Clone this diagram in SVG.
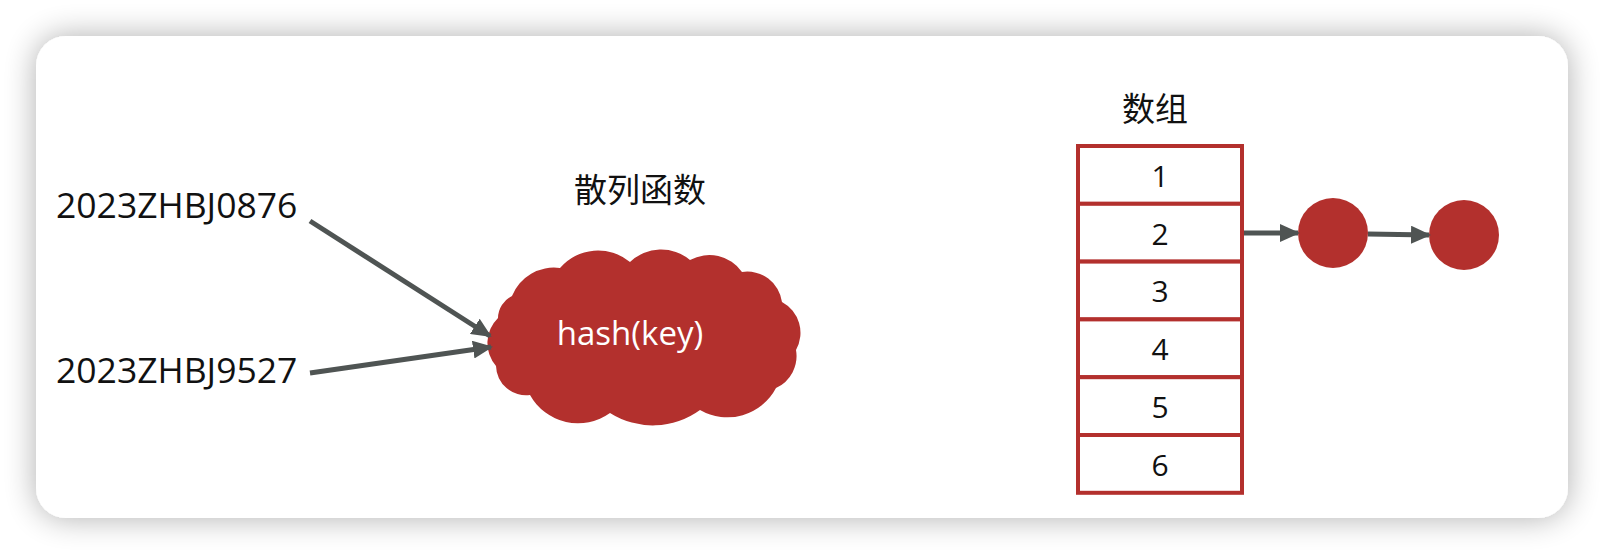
<svg xmlns="http://www.w3.org/2000/svg" width="1604" height="554" viewBox="0 0 1604 554">
  <defs>
    <filter id="shadow" x="-10%" y="-25%" width="120%" height="150%">
      <feGaussianBlur in="SourceAlpha" stdDeviation="16"/>
      <feComponentTransfer><feFuncA type="linear" slope="0.32"/></feComponentTransfer>
      <feMerge><feMergeNode/><feMergeNode in="SourceGraphic"/></feMerge>
    </filter>
    <marker id="arrow" markerUnits="userSpaceOnUse" markerWidth="20" markerHeight="18" refX="18" refY="9" orient="auto">
      <path d="M0,0 L20,9 L0,18 Z" fill="#4f5453"/>
    </marker>
    <style>
      .lbl { font-family: "Open Sans", "Noto Sans", sans-serif; fill: #111; }
      .key { font-size: 35.5px; }
      .cjk { font-family: "Noto Sans CJK SC", "Noto Sans", sans-serif; font-size: 33px; fill: #111; text-anchor: middle; }
      .num { font-size: 30px; text-anchor: middle; }
      .cell { fill: #ffffff; stroke: #b3302d; stroke-width: 4; }
      .red { fill: #b3302d; }
      .conn { stroke: #4f5453; stroke-width: 5; fill: none; marker-end: url(#arrow); }
    </style>
  </defs>
  <rect x="0" y="0" width="1604" height="554" fill="#ffffff"/>
  <rect x="36" y="36" width="1532" height="482" rx="30" ry="30" fill="#ffffff" filter="url(#shadow)"/>

  <g id="key1"><text class="lbl key" x="56" y="218">2023ZHBJ0876</text></g>
  <g id="key2"><text class="lbl key" x="56" y="383">2023ZHBJ9527</text></g>

  <g id="hash-title"><text class="cjk" x="640" y="202" font-size="34">散列函数</text></g>

  <g id="hash-cloud">
    <path class="red" d="M498,318 A25,25 0 0 1 512,296 A45,45 0 0 1 560,268 A50,50 0 0 1 630,262 A45,45 0 0 1 690,260 A40,40 0 0 1 742,272 A35,35 0 0 1 782,302 A35,35 0 0 1 796,350 A35,35 0 0 1 776,388 A55,55 0 0 1 700,410 A80,80 0 0 1 610,413 A55,55 0 0 1 530,395 A30,30 0 0 1 496,366 A35,35 0 0 1 498,318 Z"/>
    <text x="630" y="345" font-family="'Open Sans', 'Noto Sans', sans-serif" font-size="33" fill="#ffffff" text-anchor="middle">hash(key)</text>
  </g>

  <g id="array-title"><text class="cjk" x="1155" y="121">数组</text></g>

  <g id="array">
    <rect class="cell" x="1078" y="146" width="164" height="57.8"/>
    <rect class="cell" x="1078" y="203.8" width="164" height="57.8"/>
    <rect class="cell" x="1078" y="261.6" width="164" height="57.8"/>
    <rect class="cell" x="1078" y="319.4" width="164" height="57.8"/>
    <rect class="cell" x="1078" y="377.2" width="164" height="57.8"/>
    <rect class="cell" x="1078" y="435" width="164" height="57.8"/>
    <text class="lbl num" x="1160" y="187">1</text>
    <text class="lbl num" x="1160" y="245">2</text>
    <text class="lbl num" x="1160" y="302">3</text>
    <text class="lbl num" x="1160" y="360">4</text>
    <text class="lbl num" x="1160" y="418">5</text>
    <text class="lbl num" x="1160" y="476">6</text>
  </g>

  <g id="node1"><circle class="red" cx="1333" cy="233" r="35"/></g>
  <g id="node2"><circle class="red" cx="1464" cy="235" r="35"/></g>

  <g id="connectors">
    <line class="conn" x1="310" y1="221" x2="490" y2="336"/>
    <line class="conn" x1="310" y1="373" x2="491" y2="347"/>
    <line class="conn" x1="1244" y1="233" x2="1298" y2="233"/>
    <line class="conn" x1="1368" y1="234" x2="1429" y2="235"/>
  </g>
</svg>
